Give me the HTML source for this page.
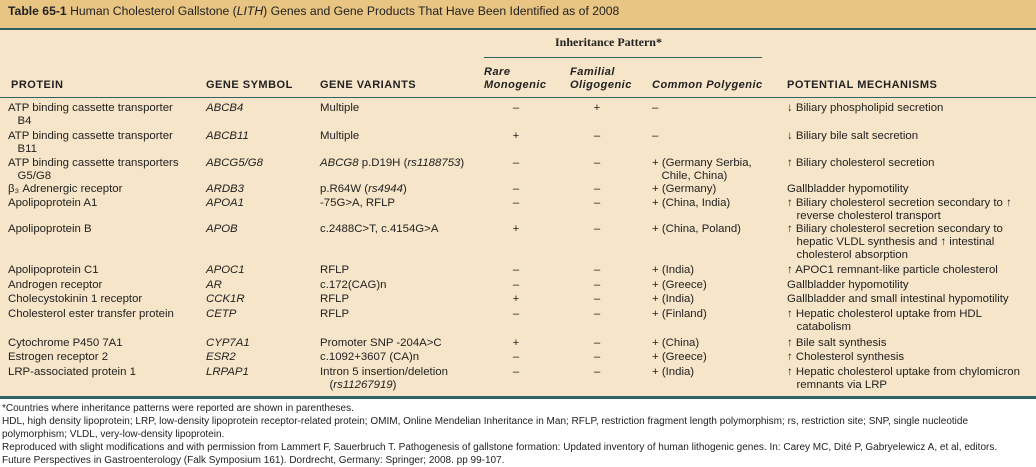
<!DOCTYPE html>
<html><head><meta charset="utf-8"><style>
body{margin:0;width:1036px;height:467px;position:relative;overflow:hidden;background:#fff;font-family:"Liberation Sans",sans-serif;color:#222}
.a{position:absolute;white-space:nowrap;font-size:11.4px;line-height:13px}
.i{font-style:italic}
.h{font-weight:bold;font-size:11px;letter-spacing:0.5px}
.c{text-align:center;width:60px}
</style></head><body>
<div style="position:absolute;left:0;top:0;width:1036px;height:28px;background:#e8c583"></div>
<div style="position:absolute;left:0;top:28px;width:1036px;height:2px;background:#2f5f5f"></div>
<div style="position:absolute;left:0;top:30px;width:1036px;height:367px;background:#f6e5c8"></div>
<div style="position:absolute;left:0;top:396px;width:1036px;height:3px;background:#2f6464"></div>
<div style="position:absolute;left:484px;top:57px;width:278px;height:1px;background:#2f6464"></div>
<div style="position:absolute;left:0;top:97px;width:1036px;height:1px;background:#2f6464"></div>

<div class="a" style="left:8px;top:5px;font-size:12.2px"><b>Table 65-1</b> Human Cholesterol Gallstone (<i>LITH</i>) Genes and Gene Products That Have Been Identified as of 2008</div>

<div class="a" style="left:555px;top:36px;font-family:'Liberation Serif',serif;font-weight:bold;font-size:12px">Inheritance Pattern*</div>
<div class="a h i" style="left:484px;top:66px">Rare<br>Monogenic</div>
<div class="a h i" style="left:570px;top:66px">Familial<br>Oligogenic</div>
<div class="a h i" style="left:652px;top:79px">Common Polygenic</div>
<div class="a h" style="left:11px;top:79px">PROTEIN</div>
<div class="a h" style="left:206px;top:79px">GENE SYMBOL</div>
<div class="a h" style="left:320px;top:79px">GENE VARIANTS</div>
<div class="a h" style="left:787px;top:79px">POTENTIAL MECHANISMS</div>

<div class="a" style="left:8px;top:102px">ATP binding cassette transporter<br>&nbsp;&nbsp;&nbsp;B4</div>
<div class="a i" style="left:206px;top:102px">ABCB4</div>
<div class="a" style="left:320px;top:102px">Multiple</div>
<div class="a c" style="left:486px;top:102px">–</div>
<div class="a c" style="left:567px;top:102px">+</div>
<div class="a" style="left:652px;top:102px">–</div>
<div class="a" style="left:787px;top:102px">↓ Biliary phospholipid secretion</div>

<div class="a" style="left:8px;top:130px">ATP binding cassette transporter<br>&nbsp;&nbsp;&nbsp;B11</div>
<div class="a i" style="left:206px;top:130px">ABCB11</div>
<div class="a" style="left:320px;top:130px">Multiple</div>
<div class="a c" style="left:486px;top:130px">+</div>
<div class="a c" style="left:567px;top:130px">–</div>
<div class="a" style="left:652px;top:130px">–</div>
<div class="a" style="left:787px;top:130px">↓ Biliary bile salt secretion</div>

<div class="a" style="left:8px;top:157px">ATP binding cassette transporters<br>&nbsp;&nbsp;&nbsp;G5/G8</div>
<div class="a i" style="left:206px;top:157px">ABCG5/G8</div>
<div class="a" style="left:320px;top:157px"><i>ABCG8</i> p.D19H (<i>rs1188753</i>)</div>
<div class="a c" style="left:486px;top:157px">–</div>
<div class="a c" style="left:567px;top:157px">–</div>
<div class="a" style="left:652px;top:157px">+ (Germany Serbia,<br>&nbsp;&nbsp;&nbsp;Chile, China)</div>
<div class="a" style="left:787px;top:157px">↑ Biliary cholesterol secretion</div>

<div class="a" style="left:8px;top:183px">β₃ Adrenergic receptor</div>
<div class="a i" style="left:206px;top:183px">ARDB3</div>
<div class="a" style="left:320px;top:183px">p.R64W (<i>rs4944</i>)</div>
<div class="a c" style="left:486px;top:183px">–</div>
<div class="a c" style="left:567px;top:183px">–</div>
<div class="a" style="left:652px;top:183px">+ (Germany)</div>
<div class="a" style="left:787px;top:183px">Gallbladder hypomotility</div>

<div class="a" style="left:8px;top:197px">Apolipoprotein A1</div>
<div class="a i" style="left:206px;top:197px">APOA1</div>
<div class="a" style="left:320px;top:197px">-75G&gt;A, RFLP</div>
<div class="a c" style="left:486px;top:197px">–</div>
<div class="a c" style="left:567px;top:197px">–</div>
<div class="a" style="left:652px;top:197px">+ (China, India)</div>
<div class="a" style="left:787px;top:197px">↑ Biliary cholesterol secretion secondary to ↑<br>&nbsp;&nbsp;&nbsp;reverse cholesterol transport</div>

<div class="a" style="left:8px;top:223px">Apolipoprotein B</div>
<div class="a i" style="left:206px;top:223px">APOB</div>
<div class="a" style="left:320px;top:223px">c.2488C&gt;T, c.4154G&gt;A</div>
<div class="a c" style="left:486px;top:223px">+</div>
<div class="a c" style="left:567px;top:223px">–</div>
<div class="a" style="left:652px;top:223px">+ (China, Poland)</div>
<div class="a" style="left:787px;top:223px">↑ Biliary cholesterol secretion secondary to<br>&nbsp;&nbsp;&nbsp;hepatic VLDL synthesis and ↑ intestinal<br>&nbsp;&nbsp;&nbsp;cholesterol absorption</div>

<div class="a" style="left:8px;top:264px">Apolipoprotein C1</div>
<div class="a i" style="left:206px;top:264px">APOC1</div>
<div class="a" style="left:320px;top:264px">RFLP</div>
<div class="a c" style="left:486px;top:264px">–</div>
<div class="a c" style="left:567px;top:264px">–</div>
<div class="a" style="left:652px;top:264px">+ (India)</div>
<div class="a" style="left:787px;top:264px">↑ APOC1 remnant-like particle cholesterol</div>

<div class="a" style="left:8px;top:279px">Androgen receptor</div>
<div class="a i" style="left:206px;top:279px">AR</div>
<div class="a" style="left:320px;top:279px">c.172(CAG)n</div>
<div class="a c" style="left:486px;top:279px">–</div>
<div class="a c" style="left:567px;top:279px">–</div>
<div class="a" style="left:652px;top:279px">+ (Greece)</div>
<div class="a" style="left:787px;top:279px">Gallbladder hypomotility</div>

<div class="a" style="left:8px;top:293px">Cholecystokinin 1 receptor</div>
<div class="a i" style="left:206px;top:293px">CCK1R</div>
<div class="a" style="left:320px;top:293px">RFLP</div>
<div class="a c" style="left:486px;top:293px">+</div>
<div class="a c" style="left:567px;top:293px">–</div>
<div class="a" style="left:652px;top:293px">+ (India)</div>
<div class="a" style="left:787px;top:293px">Gallbladder and small intestinal hypomotility</div>

<div class="a" style="left:8px;top:308px">Cholesterol ester transfer protein</div>
<div class="a i" style="left:206px;top:308px">CETP</div>
<div class="a" style="left:320px;top:308px">RFLP</div>
<div class="a c" style="left:486px;top:308px">–</div>
<div class="a c" style="left:567px;top:308px">–</div>
<div class="a" style="left:652px;top:308px">+ (Finland)</div>
<div class="a" style="left:787px;top:308px">↑ Hepatic cholesterol uptake from HDL<br>&nbsp;&nbsp;&nbsp;catabolism</div>

<div class="a" style="left:8px;top:337px">Cytochrome P450 7A1</div>
<div class="a i" style="left:206px;top:337px">CYP7A1</div>
<div class="a" style="left:320px;top:337px">Promoter SNP -204A&gt;C</div>
<div class="a c" style="left:486px;top:337px">+</div>
<div class="a c" style="left:567px;top:337px">–</div>
<div class="a" style="left:652px;top:337px">+ (China)</div>
<div class="a" style="left:787px;top:337px">↑ Bile salt synthesis</div>

<div class="a" style="left:8px;top:351px">Estrogen receptor 2</div>
<div class="a i" style="left:206px;top:351px">ESR2</div>
<div class="a" style="left:320px;top:351px">c.1092+3607 (CA)n</div>
<div class="a c" style="left:486px;top:351px">–</div>
<div class="a c" style="left:567px;top:351px">–</div>
<div class="a" style="left:652px;top:351px">+ (Greece)</div>
<div class="a" style="left:787px;top:351px">↑ Cholesterol synthesis</div>

<div class="a" style="left:8px;top:366px">LRP-associated protein 1</div>
<div class="a i" style="left:206px;top:366px">LRPAP1</div>
<div class="a" style="left:320px;top:366px">Intron 5 insertion/deletion<br>&nbsp;&nbsp;&nbsp;(<i>rs11267919</i>)</div>
<div class="a c" style="left:486px;top:366px">–</div>
<div class="a c" style="left:567px;top:366px">–</div>
<div class="a" style="left:652px;top:366px">+ (India)</div>
<div class="a" style="left:787px;top:366px">↑ Hepatic cholesterol uptake from chylomicron<br>&nbsp;&nbsp;&nbsp;remnants via LRP</div>

<div class="a" style="left:2px;top:402px;font-size:10px;line-height:13px">*Countries where inheritance patterns were reported are shown in parentheses.<br>HDL, high density lipoprotein; LRP, low-density lipoprotein receptor-related protein; OMIM, Online Mendelian Inheritance in Man; RFLP, restriction fragment length polymorphism; rs, restriction site; SNP, single nucleotide<br>polymorphism; VLDL, very-low-density lipoprotein.<br>Reproduced with slight modifications and with permission from Lammert F, Sauerbruch T. Pathogenesis of gallstone formation: Updated inventory of human lithogenic genes. In: Carey MC, Dité P, Gabryelewicz A, et al, editors.<br>Future Perspectives in Gastroenterology (Falk Symposium 161). Dordrecht, Germany: Springer; 2008. pp 99-107.</div>
</body></html>
